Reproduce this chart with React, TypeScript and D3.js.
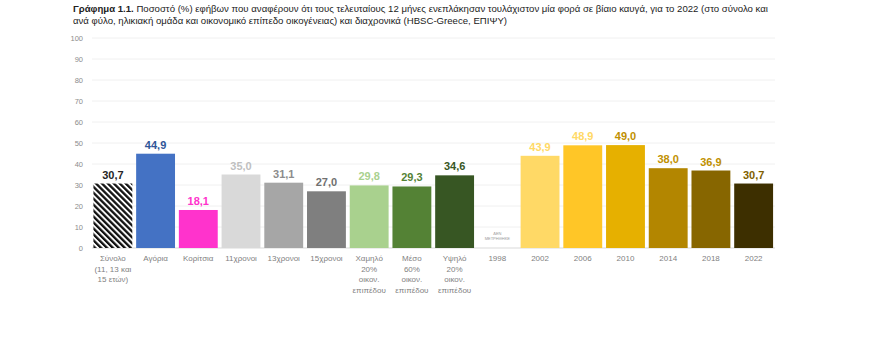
import React from "react";
import * as d3 from "d3";

const categories = [
  ["Σύνολο", "(11, 13 και", "15 ετών)"],
  ["Αγόρια"],
  ["Κορίτσια"],
  ["11χρονοι"],
  ["13χρονοι"],
  ["15χρονοι"],
  ["Χαμηλό", "20%", "οικον.", "επιπέδου"],
  ["Μέσο", "60%", "οικον.", "επιπέδου"],
  ["Υψηλό", "20%", "οικον.", "επιπέδου"],
  ["1998"],
  ["2002"],
  ["2006"],
  ["2010"],
  ["2014"],
  ["2018"],
  ["2022"],
];
const values: (number | null)[] = [30.7, 44.9, 18.1, 35.0, 31.1, 27.0, 29.8, 29.3, 34.6, null, 43.9, 48.9, 49.0, 38.0, 36.9, 30.7];
const barColors = ["url(#hatch)", "#4472C4", "#FF33CC", "#D9D9D9", "#A6A6A6", "#7F7F7F", "#A9D18E", "#548235", "#375623", "none", "#FFD966", "#FFC627", "#E6B000", "#B38600", "#876600", "#3D2F00"];
const labelColors = ["#262626", "#2F5597", "#FF33CC", "#BFBFBF", "#8C8C8C", "#707070", "#A9D18E", "#548235", "#375623", "#999", "#FFD966", "#FFD966", "#BF9000", "#BF9000", "#BF9000", "#7F6000"];
const yTicks = [0, 10, 20, 30, 40, 50, 60, 70, 80, 90, 100];
const titleBold = "Γράφημα 1.1.";
const titleLine1 = " Ποσοστό (%) εφήβων που αναφέρουν ότι τους τελευταίους 12 μήνες ενεπλάκησαν τουλάχιστον μία φορά σε βίαιο καυγά, για το 2022 (στο σύνολο και";
const titleLine2 = "ανά φύλο, ηλικιακή ομάδα και οικονομικό επίπεδο οικογένειας) και διαχρονικά (HBSC-Greece, ΕΠΙΨΥ)";
const noDataText = "ΔΕΝ ΜΕΤΡΗΘΗΚΕ";

export default function App() {
  const W = 878, H = 339;
  const x = d3.scaleBand<number>().domain(d3.range(categories.length)).range([91.5, 775]).paddingInner(0.09).paddingOuter(0.045);
  const y = d3.scaleLinear().domain([0, 100]).range([248, 38]);
  const font = "'Liberation Sans', Arial, sans-serif";
  return (
    <svg width={W} height={H} style={{ position: "absolute", left: 0, top: 0, background: "#fff" }} fontFamily={font}>
      <defs>
        <pattern id="hatch" patternUnits="userSpaceOnUse" width="4.2" height="4.2" patternTransform="rotate(-45)">
          <rect width="4.2" height="4.2" fill="#fff" />
          <rect width="2.3" height="4.2" fill="#111" />
        </pattern>
      </defs>
      <text x={73} y={12} fontSize={9.6} fill="#222">
        <tspan fontWeight="bold">{titleBold}</tspan>
        <tspan>{titleLine1}</tspan>
      </text>
      <text x={73} y={24} fontSize={9.6} fill="#222">{titleLine2}</text>
      {yTicks.map((t) => (
        <g key={t}>
          <line x1={92} x2={775} y1={y(t)} y2={y(t)} stroke={t === 0 ? "#D9D9D9" : "#F0F0F0"} strokeWidth={1} />
          <text x={83} y={y(t) + 2.5} fontSize={7.5} fill="#8C8C8C" textAnchor="end">{t}</text>
        </g>
      ))}
      {values.map((v, i) => {
        const bx = x(i)!;
        const bw = x.bandwidth();
        const cx = bx + bw / 2;
        return (
          <g key={i}>
            {v !== null ? (
              <>
                <rect x={bx} y={y(v)} width={bw} height={y(0) - y(v)} fill={barColors[i]} />
                <text x={cx} y={y(v) - 5} fontSize={11} fontWeight="bold" fill={labelColors[i]} textAnchor="middle">
                  {v.toFixed(1).replace(".", ",")}
                </text>
              </>
            ) : (
              <text fontSize={4} fill="#999" textAnchor="middle">
                {noDataText.split(" ").map((w, k) => (
                  <tspan key={k} x={cx} y={235 + k * 5}>{w}</tspan>
                ))}
              </text>
            )}
            <text fontSize={8} fill="#7F7F7F" textAnchor="middle">
              {categories[i].map((l, k) => (
                <tspan key={k} x={cx} y={261 + k * 10.5}>{l}</tspan>
              ))}
            </text>
          </g>
        );
      })}
    </svg>
  );
}
